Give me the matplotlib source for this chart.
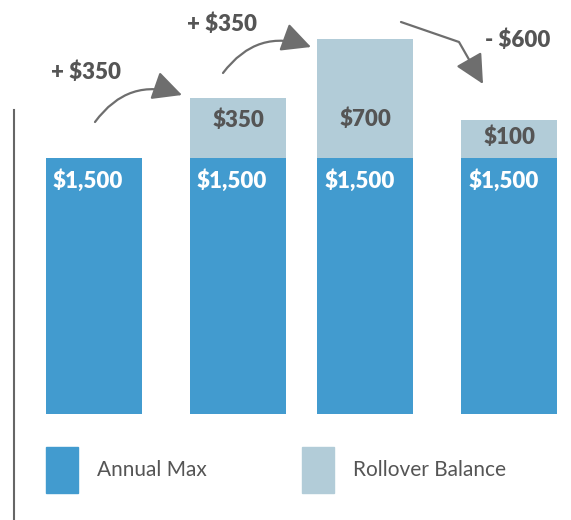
import matplotlib
matplotlib.use("Agg")
import matplotlib.pyplot as plt
import numpy as np
from matplotlib.patches import FancyArrowPatch, Patch
from matplotlib.path import Path
from matplotlib.transforms import Affine2D
from matplotlib.lines import Line2D

# data
annual_max = [1500, 1500, 1500, 1500]
rollover = [0, 350, 700, 225]          # last bar is drawn taller than its label in the source
max_labels = ["$1,500", "$1,500", "$1,500", "$1,500"]
rollover_labels = ["", "$350", "$700", "$100"]
change_labels = ["+ $350", "+ $350", "- $600"]
legend_labels = ["Annual Max", "Rollover Balance"]

# layout
W, H = 571, 520
slot_x = [0, 1, 1.885, 2.885]
bar_w = 0.667
blue = "#429bcf"
light = "#b2ccd8"
dark = "#555555"
arrow_c = "#6e6e6e"
label_rise_px = [0, 38, 39, 21]
heavy = 800

plt.rcParams["font.family"] = ["Lato", "DejaVu Sans"]

fig = plt.figure(figsize=(W / 100, H / 100), dpi=100)
# pixel helper: (x, y) measured from the top-left corner of the image
pix = Affine2D().scale(1 / W, -1 / H).translate(0, 1) + fig.transFigure

# axes covers whole figure; 144 px per slot, 256 px per 1500
px_x = 144.0
px_y = 256.0 / 1500
ax = fig.add_axes([0, 0, 1, 1])
ax.set_xlim(-94 / px_x, (W - 94) / px_x)
ax.set_ylim(-(H - 414) / px_y, 414 / px_y)
ax.axis("off")

ax.bar(slot_x, annual_max, width=bar_w, color=blue, label=legend_labels[0])
ax.bar(slot_x, rollover, width=bar_w, bottom=annual_max, color=light,
       label=legend_labels[1])

for i, x in enumerate(slot_x):
    ax.annotate(max_labels[i], (x, annual_max[i]), xytext=(-4.3, -16.5),
                textcoords="offset points", ha="center", va="center",
                color="white", fontsize=16, fontweight=heavy)
    if rollover_labels[i]:
        ax.annotate(rollover_labels[i], (x, annual_max[i]),
                    xytext=(0, label_rise_px[i] * 0.72),
                    textcoords="offset points", ha="center", va="center",
                    color=dark, fontsize=16, fontweight=heavy)

# change labels above the arrows
for txt, (tx, ty) in zip(change_labels, [(86, 72), (222, 24), (518, 40)]):
    fig.text(tx, ty, txt, transform=pix, ha="center", va="center",
             color=dark, fontsize=16, fontweight=heavy)

style = "-|>,head_length=18,head_width=9"
for a, b in [((95, 122), (182, 95)), ((223, 73), (311, 47))]:
    fig.patches.append(FancyArrowPatch(a, b, transform=pix,
                                       connectionstyle="arc3,rad=-0.37",
                                       arrowstyle=style, mutation_scale=1,
                                       shrinkA=0, shrinkB=0,
                                       color=arrow_c, lw=1.6))
drop = Path([(401, 22), (459, 42), (483, 84)],
            [Path.MOVETO, Path.LINETO, Path.LINETO])
fig.patches.append(FancyArrowPatch(path=drop, transform=pix, arrowstyle=style,
                                   mutation_scale=1, color=arrow_c, lw=1.6))

# left rule
fig.lines.append(Line2D([14, 14], [110, H], transform=pix, color="#666666",
                        lw=1.5))

handles = [Patch(color=blue), Patch(color=light)]
fig.legend(handles, legend_labels, loc="center left",
           bbox_to_anchor=(46, 470), bbox_transform=pix, ncol=2,
           frameon=False, fontsize=15, labelcolor=dark,
           handlelength=1.54, handleheight=3.0, handletextpad=0.9,
           columnspacing=4.58, borderpad=0, borderaxespad=0)

fig.savefig("out.png", dpi=100)
